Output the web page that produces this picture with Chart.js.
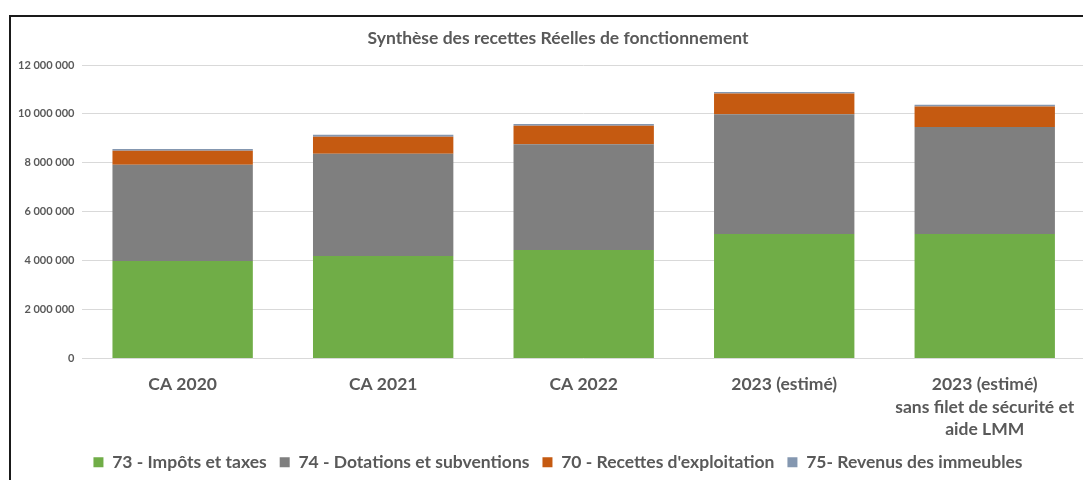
<!DOCTYPE html>
<html>
<head>
<meta charset="utf-8">
<script src="https://cdn.jsdelivr.net/npm/chart.js@4.4.0/dist/chart.umd.min.js"></script>
<style>
  html, body { margin: 0; padding: 0; overflow: hidden; background: #fff; }
  #wrap { position: relative; width: 1083px; height: 480px; overflow: hidden; }
  canvas { position: absolute; left: 0; top: 0; }
  #frame { position: absolute; left: 9px; top: 15px; width: 3000px; height: 3000px;
           border-left: 2px solid #1a1a1a; border-top: 2px solid #1a1a1a; pointer-events: none; }
</style>
</head>
<body>
<div id="wrap">
  <canvas id="c" width="1107" height="481"></canvas>
  <div id="frame"></div>
</div>
<script>
const categories = ['CA 2020', 'CA 2021', 'CA 2022', '2023 (estimé)', ['2023 (estimé)', 'sans filet de sécurité et', 'aide LMM']];
const impotsTaxes = [3990000, 4190000, 4440000, 5090000, 5090000];
const dotationsSubventions = [3930000, 4180000, 4320000, 4900000, 4370000];
const recettesExploitation = [570000, 700000, 760000, 840000, 840000];
const revenusImmeubles = [80000, 80000, 70000, 70000, 70000];
const yTicks = [0, 2000000, 4000000, 6000000, 8000000, 10000000, 12000000];

const FONT = 'Lato, "Open Sans", sans-serif';
const TXT = '#595959';

function fmt(v) {
  return String(v).replace(/\B(?=(\d{3})+(?!\d))/g, ' ');
}

new Chart(document.getElementById('c'), {
  type: 'bar',
  data: {
    labels: categories,
    datasets: [
      { label: '73 - Impôts et taxes', data: impotsTaxes, backgroundColor: '#70AD47' },
      { label: '74 - Dotations et subventions', data: dotationsSubventions, backgroundColor: '#7F7F7F' },
      { label: "70 - Recettes d'exploitation", data: recettesExploitation, backgroundColor: '#C55A11' },
      { label: '75- Revenus des immeubles', data: revenusImmeubles, backgroundColor: '#8497B0' }
    ]
  },
  options: {
    responsive: false,
    animation: false,
    layout: { padding: { left: 10, right: 1, top: 0, bottom: 0 } },
    datasets: { bar: { barPercentage: 0.7, categoryPercentage: 1.0, borderWidth: 0 } },
    scales: {
      x: {
        stacked: true,
        grid: { display: false, drawTicks: false },
        border: { display: false },
        afterFit: (axis) => { axis.height = 82; },
        ticks: { color: TXT, font: { family: FONT, size: 17.5, weight: 'bold', lineHeight: 1.29 }, padding: 14.5, maxRotation: 0, autoSkip: false }
      },
      y: {
        stacked: true,
        min: 0, max: 12000000,
        afterBuildTicks: (axis) => { axis.ticks = yTicks.map(v => ({ value: v })); },
        grid: { color: '#d9d9d9', lineWidth: 1, drawTicks: false },
        border: { display: false },
        ticks: { color: TXT, font: { family: FONT, size: 11, weight: 'bold' }, padding: 8, callback: (v) => fmt(v) }
      },
      yRight: {
        position: 'right',
        display: true,
        min: 0, max: 12000000,
        grid: { display: false, drawTicks: false },
        border: { display: false },
        ticks: { display: false },
        afterFit: (axis) => { axis.width = 21; }
      }
    },
    plugins: {
      title: {
        display: true,
        text: 'Synthèse des recettes Réelles de fonctionnement',
        color: TXT,
        font: { family: FONT, size: 17.5, weight: 'bold' },
        padding: { top: 28, bottom: 16 }
      },
      legend: {
        position: 'bottom',
        labels: { color: TXT, font: { family: FONT, size: 17.5, weight: 'bold' }, boxWidth: 10, boxHeight: 10, padding: 13 }
      },
      tooltip: { enabled: false }
    }
  }
});
</script>
</body>
</html>
